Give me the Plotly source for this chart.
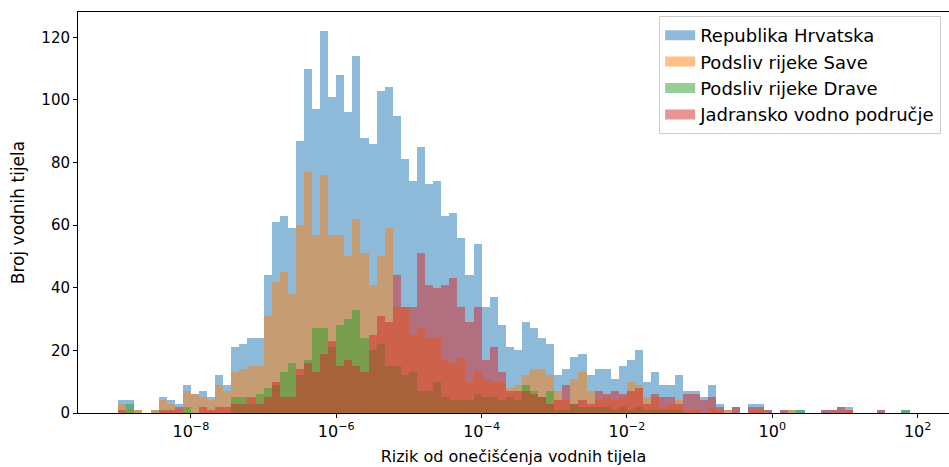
import numpy as np
import plotly.graph_objects as go

# log-spaced bins, 10^-9 .. 10^2 (np.logspace(-9, 2, 100) -> 99 bins)
log_min, log_max, n_bins = -9, 2, 99

hrvatska = [4, 4, 1, 0, 1, 5, 4, 3, 9, 6, 7, 5, 12, 9, 21, 22, 24, 24, 44, 61,
            63, 59, 87, 110, 97, 122, 101, 108, 96, 114, 88, 86, 103, 104, 95, 81, 74, 85, 73, 74,
            63, 64, 56, 44, 54, 34, 37, 28, 21, 20, 29, 27, 24, 22, 12, 14, 18, 19, 12, 14,
            14, 11, 15, 17, 20, 10, 13, 9, 9, 12, 7, 7, 5, 9, 3, 1, 2, 0, 3, 3,
            1, 0, 1, 1, 1, 0, 0, 1, 1, 2, 2, 0, 0, 0, 1, 0, 0, 1, 0]
sava = [3, 1, 1, 0, 1, 4, 3, 1, 7, 6, 5, 4, 9, 7, 13, 14, 15, 15, 31, 42,
        45, 38, 60, 77, 57, 76, 57, 57, 50, 62, 51, 41, 50, 59, 34, 34, 25, 27, 24, 24,
        17, 16, 18, 10, 13, 11, 10, 10, 8, 9, 12, 14, 14, 12, 7, 4, 11, 13, 7, 4,
        5, 4, 5, 10, 9, 5, 5, 2, 3, 4, 1, 1, 0, 2, 1, 1, 0, 0, 1, 1,
        0, 0, 0, 1, 0, 0, 0, 0, 0, 0, 1, 0, 0, 0, 0, 0, 0, 0, 0]
drava = [0, 3, 0, 0, 0, 0, 0, 0, 2, 0, 0, 0, 0, 0, 5, 5, 3, 6, 8, 9,
         13, 16, 12, 17, 27, 27, 21, 28, 30, 33, 24, 20, 22, 15, 15, 12, 13, 7, 7, 10,
         5, 4, 4, 4, 6, 5, 5, 4, 5, 4, 9, 7, 5, 7, 1, 1, 3, 2, 2, 2,
         2, 1, 2, 1, 2, 1, 1, 1, 1, 1, 0, 0, 0, 0, 0, 0, 0, 0, 0, 0,
         0, 0, 0, 0, 1, 0, 0, 0, 0, 0, 0, 0, 0, 0, 0, 0, 0, 1, 0]
jadran = [1, 0, 0, 0, 0, 1, 1, 2, 0, 0, 2, 1, 2, 2, 3, 3, 5, 3, 5, 10,
          5, 5, 14, 16, 13, 19, 23, 15, 17, 15, 13, 25, 31, 29, 44, 34, 34, 51, 41, 40,
          41, 43, 34, 29, 34, 17, 21, 13, 7, 7, 7, 6, 5, 3, 4, 9, 3, 4, 3, 7,
          6, 7, 6, 7, 8, 3, 6, 5, 5, 3, 6, 6, 4, 5, 2, 0, 2, 0, 2, 2,
          1, 0, 1, 0, 0, 0, 0, 1, 1, 2, 1, 0, 0, 0, 1, 0, 0, 0, 0]

series = [
    ("Republika Hrvatska", hrvatska, "#1f77b4"),
    ("Podsliv rijeke Save", sava, "#ff7f0e"),
    ("Podsliv rijeke Drave", drava, "#2ca02c"),
    ("Jadransko vodno područje", jadran, "#d62728"),
]

edges = np.linspace(log_min, log_max, n_bins + 1)
centers = (edges[:-1] + edges[1:]) / 2
bin_w = edges[1] - edges[0]

FAM = "DejaVu Sans"

fig = go.Figure()
for name, counts, color in series:
    fig.add_trace(go.Bar(
        x=centers, y=counts, width=bin_w, name=name, opacity=0.5,
        marker=dict(color=color, line=dict(width=0)), showlegend=False,
    ))
# legend-only entries so the swatches look like mpl patches
for name, counts, color in series:
    fig.add_trace(go.Scatter(
        x=[None], y=[None], mode="lines", name=name, opacity=0.5,
        line=dict(color=color, width=13),
    ))

fig.update_layout(
    width=949, height=467,
    barmode="overlay", bargap=0,
    plot_bgcolor="white", paper_bgcolor="white",
    margin=dict(l=78, r=0, t=12, b=54),
    font=dict(family=FAM, size=14, color="black"),
    legend=dict(
        x=0.991, y=0.99, xanchor="right", yanchor="top",
        bgcolor="rgba(255,255,255,0.8)", bordercolor="#cccccc", borderwidth=1,
        font=dict(family=FAM, size=18, color="black"),
    ),
)
ticks = [-8, -6, -4, -2, 0, 2]
fig.update_xaxes(
    range=[-9.554, 2.432], automargin=False,
    tickvals=ticks, ticktext=[f"10<sup>{'−' if t < 0 else ''}{abs(t)}</sup>" for t in ticks],
    ticks="outside", ticklen=4, tickcolor="black",
    tickfont=dict(family=FAM, size=16, color="black"),
    showline=True, linecolor="black", linewidth=1, mirror=True,
    showgrid=False, zeroline=False,
    title=dict(text="Rizik od onečišćenja vodnih tijela", standoff=10,
               font=dict(family=FAM, size=16, color="black")),
)
fig.update_yaxes(
    range=[0, 128.1], automargin=False,
    tickvals=[0, 20, 40, 60, 80, 100, 120],
    ticks="outside", ticklen=4, tickcolor="black",
    tickfont=dict(family=FAM, size=15, color="black"),
    showline=True, linecolor="black", linewidth=1, mirror=True,
    showgrid=False, zeroline=False,
    title=dict(text="Broj vodnih tijela", standoff=12,
               font=dict(family=FAM, size=17, color="black")),
)

# drop the browser's default body margin so the figure sits at the page origin
fig.write_html("out.html", config={"displayModeBar": False},
               post_script="document.body.style.margin='0';")
